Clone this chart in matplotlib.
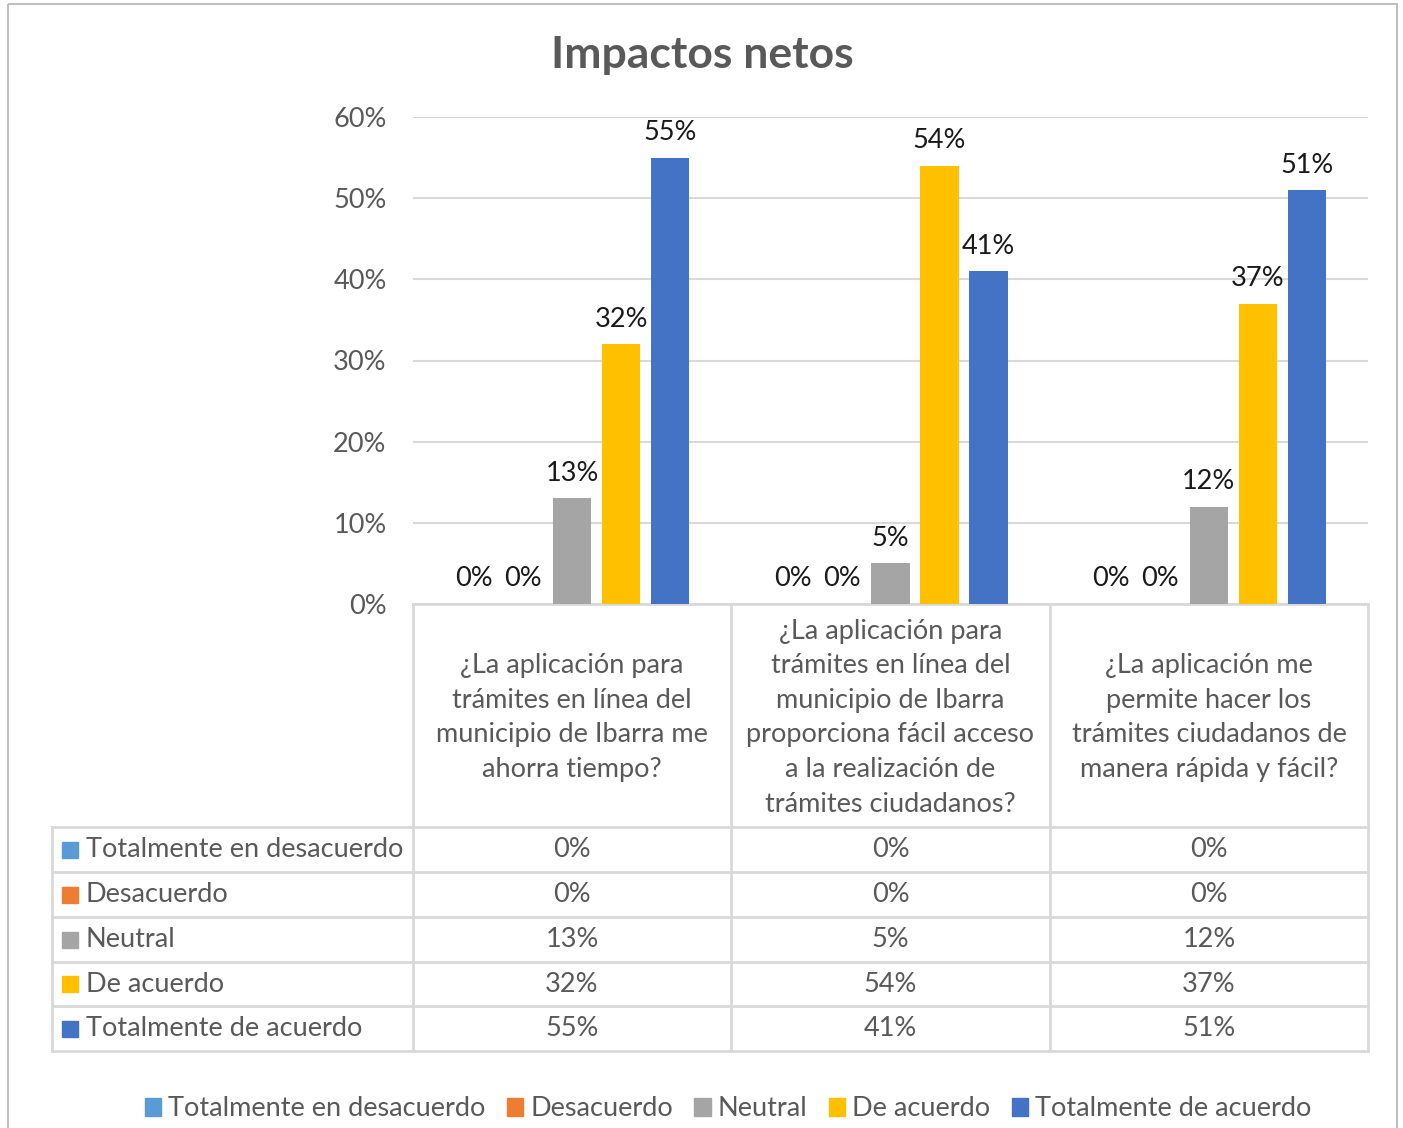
import matplotlib.pyplot as plt
import numpy as np
from matplotlib.patches import Patch, Rectangle

plt.rcParams['font.family'] = ['Lato', 'DejaVu Sans']

# survey results, share of answers per question
questions = [
    "¿La aplicación para\ntrámites en línea del\nmunicipio de Ibarra me\nahorra tiempo?",
    "¿La aplicación para\ntrámites en línea del\nmunicipio de Ibarra\nproporciona fácil acceso\na la realización de\ntrámites ciudadanos?",
    "¿La aplicación me\npermite hacer los\ntrámites ciudadanos de\nmanera rápida y fácil?",
]
answers = ["Totalmente en desacuerdo", "Desacuerdo", "Neutral",
           "De acuerdo", "Totalmente de acuerdo"]
tot_desacuerdo = [0.00, 0.00, 0.00]
desacuerdo = [0.00, 0.00, 0.00]
neutral = [0.13, 0.05, 0.12]
de_acuerdo = [0.32, 0.54, 0.37]
tot_acuerdo = [0.55, 0.41, 0.51]
series = [tot_desacuerdo, desacuerdo, neutral, de_acuerdo, tot_acuerdo]
colors = ['#5B9BD5', '#ED7D31', '#A5A5A5', '#FFC000', '#4472C4']

W, H = 1403, 1128
grey = '#595959'
line_c = '#D9D9D9'
fs = 19.5

fig = plt.figure(figsize=(W / 100, H / 100), dpi=100)

# bar area, placed in pixel units
x0, x1, ytop, ybot = 413, 1368, 117, 604
ax = fig.add_axes([x0 / W, (H - ybot) / H, (x1 - x0) / W, (ybot - ytop) / H])
ax.set_xlim(-0.5, 2.5)
ax.set_ylim(0, 0.6)
ax.set_yticks(np.arange(0, 0.61, 0.1))
ax.set_yticklabels([f"{int(round(v * 100))}%" for v in np.arange(0, 0.61, 0.1)],
                   color=grey, fontsize=fs)
ax.tick_params(axis='y', length=0, pad=19)
ax.set_xticks([])
ax.grid(axis='y', color=line_c, lw=1.5)
ax.set_axisbelow(True)
for s in ax.spines.values():
    s.set_visible(False)

x = np.arange(len(questions))
step, bw = 0.154, 0.12
for i, (vals, c) in enumerate(zip(series, colors)):
    pos = x + (i - 2) * step
    ax.bar(pos, vals, width=bw, color=c, zorder=2)
    for px, v in zip(pos, vals):
        ax.annotate(f"{int(round(v * 100))}%", (px, v), xytext=(0, 9),
                    textcoords='offset points', ha='center', va='bottom',
                    fontsize=fs, color='#1a1a1a')

# overlay in pixel coordinates for the data table and frame
ov = fig.add_axes([0, 0, 1, 1], zorder=-1)
ov.set_xlim(0, W)
ov.set_ylim(H, 0)
ov.axis('off')

ov.add_patch(Rectangle((8, 4), 1389, 1200, fill=False, ec='#BFBFBF', lw=1.5))

cols = [413, 731, 1050, 1368]
rows = [827, 872, 917, 962, 1006, 1051]
left = 52
for cx in cols:
    ov.plot([cx, cx], [ybot, rows[-1]], color=line_c, lw=2)
ov.plot([left, left], [rows[0], rows[-1]], color=line_c, lw=2)
ov.plot([x0, x1], [ybot, ybot], color=line_c, lw=2)
for ry in rows:
    ov.plot([left, x1], [ry, ry], color=line_c, lw=2)

for j, q in enumerate(questions):
    cx = (cols[j] + cols[j + 1]) / 2
    ov.text(cx, (ybot + rows[0]) / 2 + 2, q, ha='center', va='center',
            fontsize=fs, color=grey, linespacing=1.48)

for i, (name, vals, c) in enumerate(zip(answers, series, colors)):
    cy = (rows[i] + rows[i + 1]) / 2
    ov.add_patch(Rectangle((62, cy - 8), 16, 16, color=c))
    ov.text(86, cy, name, ha='left', va='center', fontsize=fs, color=grey)
    for j, v in enumerate(vals):
        cx = (cols[j] + cols[j + 1]) / 2
        ov.text(cx, cy, f"{int(round(v * 100))}%", ha='center', va='center',
                fontsize=fs, color=grey)

fig.text(702 / W, 1 - 55 / H, "Impactos netos", ha='center', va='center',
         fontsize=32, fontweight='bold', color=grey)

handles = [Patch(color=c, label=a) for a, c in zip(answers, colors)]
leg = fig.legend(handles=handles, loc='center', ncol=5,
                 bbox_to_anchor=(728 / W, 1 - 1109 / H), frameon=False,
                 fontsize=fs, handlelength=0.6, handleheight=0.6,
                 handletextpad=0.25, columnspacing=0.8)
for t in leg.get_texts():
    t.set_color(grey)

fig.savefig("out.png", dpi=100)
